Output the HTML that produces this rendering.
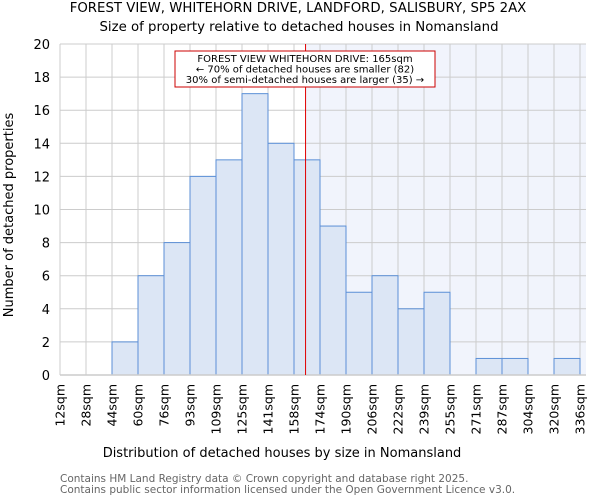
<!DOCTYPE html>
<html><head><meta charset="utf-8"><style>
body{margin:0;background:#fff;font-family:"DejaVu Sans","Liberation Sans",sans-serif}
svg text{font-family:"DejaVu Sans","Liberation Sans",sans-serif}
</style></head><body>
<svg id="chart" width="600" height="500">
<text x="298" y="12" text-anchor="middle" font-size="13.3">FOREST VIEW, WHITEHORN DRIVE, LANDFORD, SALISBURY, SP5 2AX</text>
<text x="299" y="31" text-anchor="middle" font-size="13.3">Size of property relative to detached houses in Nomansland</text>
<g id="plot"></g>
<text x="282" y="457" text-anchor="middle" font-size="13">Distribution of detached houses by size in Nomansland</text>
<text transform="translate(13,215) rotate(-90)" text-anchor="middle" font-size="13">Number of detached properties</text>
<text x="60" y="482" font-size="10.5" fill="#666">Contains HM Land Registry data © Crown copyright and database right 2025.</text>
<text x="60" y="493" font-size="10.5" fill="#666">Contains public sector information licensed under the Open Government Licence v3.0.</text>
</svg>
<script>
const edgeLabels=["12sqm","28sqm","44sqm","60sqm","76sqm","93sqm","109sqm","125sqm","141sqm","158sqm","174sqm","190sqm","206sqm","222sqm","239sqm","255sqm","271sqm","287sqm","304sqm","320sqm","336sqm"];
const binEdges=[12,28.2,44.4,60.6,76.8,93,109.2,125.4,141.6,157.8,174,190.2,206.4,222.6,238.8,255,271.2,287.4,303.6,319.8,336];
const counts=[0,0,2,6,8,12,13,17,14,13,9,5,6,4,5,0,1,1,0,1];
const yTicks=[0,2,4,6,8,10,12,14,16,18,20];
const subjectSize=165;
const X0=60,X1=580,Y0=375,Y1=44,PR=586;
const x=v=>X0+(v-binEdges[0])/(binEdges[binEdges.length-1]-binEdges[0])*(X1-X0);
const y=v=>Y0-v/20*(Y0-Y1);
const NS="http://www.w3.org/2000/svg",g=document.getElementById('plot');
function mk(t,a,p){const e=document.createElementNS(NS,t);for(const k in a)e.setAttribute(k,a[k]);(p||g).appendChild(e);return e;}
const sx=x(subjectSize);
const shade=mk('rect',{x:sx,y:Y1,width:PR-sx,height:Y0-Y1,fill:'#f1f4fc'});


yTicks.forEach(t=>{
 const l=mk('line',{x1:X0,x2:PR,y1:y(t),y2:y(t),stroke:'#ccc'});
 
 
 const tx=mk('text',{x:X0-10,y:y(t)+5,'text-anchor':'end','font-size':13});
 tx.textContent=t;
 
 
});
binEdges.forEach((e,i)=>{
 const l=mk('line',{x1:x(e),x2:x(e),y1:Y1,y2:Y0,stroke:'#ccc'});
 
 
 const tx=mk('text',{transform:`translate(${x(e)+4.5},384) rotate(-90)`,'text-anchor':'end','font-size':12.5});
 tx.textContent=edgeLabels[i];
 
 
});
counts.forEach((c,i)=>{
 if(!c)return;
 const r=mk('rect',{x:x(binEdges[i]),y:y(c),width:x(binEdges[i+1])-x(binEdges[i]),height:Y0-y(c),fill:'#dce6f5',stroke:'#5b8fd6'});
 
 
});
const ax=mk('line',{x1:X0,x2:PR,y1:Y0,y2:Y0,stroke:'#ccc','stroke-width':1.5});


const rl=mk('line',{x1:sx,x2:sx,y1:Y1,y2:Y0,stroke:'#e00000','stroke-width':1});


const box=mk('rect',{x:175,y:51,width:260,height:36,fill:'#fff',stroke:'#cc0000'});


["FOREST VIEW WHITEHORN DRIVE: 165sqm","← 70% of detached houses are smaller (82)","30% of semi-detached houses are larger (35) →"].forEach((s,i)=>{
 const t=mk('text',{x:305,y:62+i*10.5,'text-anchor':'middle','font-size':10});
 t.textContent=s;
 
 
});
</script>
</body></html>
